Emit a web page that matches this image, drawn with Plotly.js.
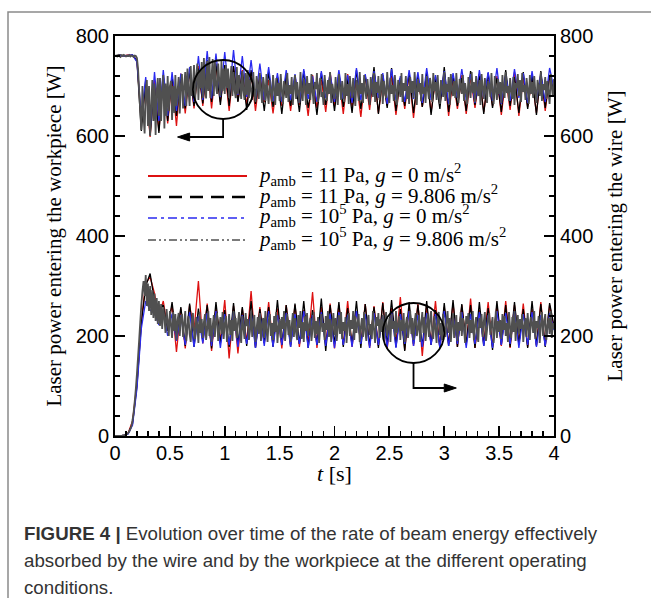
<!DOCTYPE html>
<html>
<head>
<meta charset="utf-8">
<script src="https://cdn.plot.ly/plotly-3.0.1.min.js"></script>
<style>
html,body{margin:0;padding:0;background:#fff;}
#chart{width:651px;height:598px;}
</style>
</head>
<body>
<div id="chart"></div>
<script>
// sampling of the recorded signals (seconds)
const fineStep = 0.01;   // gray series
const coarseStep = 0.04; // red, black, blue series

// ---- Laser power entering the workpiece [W] (left axis) ----
const workpiece_11Pa_g0 = [ // red
 760,761,760,762,761,752,625,705,598,712,
 610,722,625,715,620,725,645,730,655,740,
 660,745,655,740,668,735,650,738,670,732,
 662,728,650,722,668,712,645,718,660,716,
 650,720,662,708,640,722,656,712,648,728,
 660,716,644,724,658,710,638,720,652,730,
 646,712,660,720,642,716,654,724,636,718,
 658,720,648,712,662,728,640,716,654,722,
 644,718,656,724,648,712,660,720,642,716,
 652,728,640,716,658,712,646,724,650,718,
 690];
const workpiece_11Pa_g9806 = [ // black
 760,762,761,760,762,750,610,712,602,700,
 606,718,630,720,640,718,655,728,660,735,
 665,752,668,745,662,742,660,740,668,730,
 652,732,664,722,650,728,658,718,644,724,
 660,716,648,730,656,712,642,726,662,718,
 650,724,658,714,646,732,654,720,662,738,
 644,722,656,736,650,716,660,726,646,720,
 658,728,642,718,654,738,648,722,660,716,
 650,730,662,720,644,726,656,716,648,732,
 660,718,646,728,654,722,642,730,656,720,
 690];
const workpiece_1e5Pa_g0 = [ // blue
 760,761,760,761,762,748,640,718,612,728,
 630,732,640,728,650,725,660,738,668,760,
 672,770,675,765,678,768,680,772,682,760,
 678,752,674,745,672,738,670,726,668,732,
 672,724,666,734,674,720,668,730,676,726,
 668,732,674,722,666,736,672,724,670,730,
 676,726,664,734,672,720,668,732,674,728,
 666,736,672,722,670,730,664,726,676,734,
 672,724,666,732,674,728,670,736,664,722,
 670,734,676,726,666,730,672,724,668,736,
 695];
const workpiece_1e5Pa_g9806 = [ // gray
 760,761,759,762,760,758,761,760,762,760,759,761,760,762,759,761,760,758,761,760,756,
 735,690,650,612,700,640,605,690,712,620,
 700,600,660,712,630,705,602,690,716,640,
 716,630,690,722,615,705,640,720,650,700,
 710,632,700,646,722,660,690,718,645,700,
 724,655,700,728,660,735,690,660,740,680,
 700,742,668,720,745,672,730,695,748,676,
 756,700,675,750,690,758,676,720,754,680,
 748,700,684,745,712,680,750,690,735,684,
 742,696,735,676,712,740,680,728,690,676,
 738,684,722,700,674,730,690,672,726,682,
 732,676,712,690,672,728,686,668,720,700,
 674,726,690,666,718,700,670,724,684,664,
 712,688,668,722,694,662,716,680,706,670,
 724,690,664,710,698,676,726,668,702,684,
 718,662,696,722,674,708,686,666,728,692,
 670,714,700,662,720,684,706,672,724,690,
 664,708,694,726,668,700,716,678,688,662,
 722,696,670,712,684,728,666,704,690,674,
 718,686,662,724,698,672,710,692,668,726,
 680,704,664,720,694,676,716,688,660,712,
 700,670,728,684,706,666,722,692,674,714,
 690,662,718,702,678,726,668,708,686,720,
 672,696,724,664,710,688,676,728,694,666,
 716,684,702,670,722,692,662,712,698,678,
 726,668,706,690,720,674,700,664,718,686,
 710,676,728,694,662,714,688,706,670,724,
 684,698,666,720,692,674,716,702,668,726,
 690,708,672,722,686,664,712,696,678,728,
 670,704,688,718,662,724,694,680,710,676,
 726,692,666,714,700,684,722,670,706,690,
 664,718,696,676,728,686,708,668,720,694,
 680,712,662,724,698,674,716,690,666,710,
 702,678,726,688,664,720,694,672,714,684,
 708,666,722,692,676,728,686,700,670,716,
 690,674,718,662,706,696,724,680,712,668,
 726,688,702,672,716,694,664,722,684,708,
 676,720,690,666,712,698,680,728,670,704,
 692,718,674,710,686,664,724,696,678,714];

// ---- Laser power entering the wire [W] (right axis) ----
const wire_11Pa_g0 = [ // red
 0,0,1,6,30,105,230,305,318,285,
 240,270,215,262,168,255,175,262,210,310,
 185,265,170,258,190,272,155,260,165,255,
 188,290,178,258,185,268,180,255,175,262,
 182,262,178,252,185,288,176,258,182,265,
 175,262,182,270,178,250,185,264,176,260,
 180,268,174,256,185,278,172,258,180,265,
 160,262,182,270,176,258,184,265,178,262,
 182,275,176,252,185,268,178,262,180,270,
 176,262,184,265,178,254,182,268,180,262,
 215];
const wire_11Pa_g9806 = [ // black
 0,0,1,5,25,100,225,300,325,270,
 250,262,210,268,192,258,180,265,178,255,
 190,262,175,268,185,252,178,266,184,258,
 180,270,176,254,186,258,178,272,182,262,
 178,265,184,270,176,252,182,275,170,262,
 184,268,178,256,182,270,176,264,180,258,
 176,266,182,272,178,254,170,268,184,262,
 178,270,182,252,176,266,180,272,178,264,
 184,262,176,268,180,256,172,270,182,262,
 178,268,184,254,176,270,180,264,178,266,
 220];
const wire_1e5Pa_g0 = [ // blue
 0,0,1,4,22,95,215,270,252,245,
 222,248,200,245,190,242,182,248,178,240,
 185,246,180,250,176,244,182,248,178,242,
 184,248,176,244,180,250,178,242,182,246,
 178,244,184,250,176,242,182,248,180,245,
 176,248,182,242,178,250,184,244,176,246,
 182,242,178,248,176,244,184,250,180,242,
 178,246,182,244,176,250,180,242,184,248,
 176,244,184,248,180,242,176,250,182,246,
 184,250,176,244,182,248,178,242,180,246,
 212];
const wire_1e5Pa_g9806 = [ // gray
 0,0,0,0,0,0,0,1,1,2,3,4,6,9,14,20,
 32,48,70,95,125,158,192,228,262,290,310,280,322,260,305,
 250,300,242,292,236,285,230,276,224,270,
 220,264,214,258,236,206,254,228,200,250,
 222,196,248,210,244,192,232,246,200,236,
 244,198,226,250,190,218,240,204,188,232,
 246,210,194,238,222,186,248,206,234,196,
 228,244,192,214,250,200,236,188,220,242,
 198,230,246,190,212,238,204,248,194,224,
 240,188,218,244,202,232,190,250,210,236,
 196,226,248,206,186,240,216,194,246,220,
 234,192,210,250,198,228,242,188,214,238,
 204,246,190,222,236,196,250,212,188,230,
 244,200,226,192,240,208,248,186,218,234,
 196,238,214,250,190,224,244,202,232,188,
 220,246,198,236,206,192,242,216,250,194,
 228,188,240,210,246,200,222,236,190,214,
 248,196,230,204,238,186,218,244,208,226,
 192,240,212,250,198,234,188,224,246,202,
 236,190,216,242,204,248,194,228,210,238,
 186,222,246,200,232,214,250,192,240,206,
 226,244,188,218,236,198,248,210,190,230,
 242,202,224,194,250,212,186,238,220,246,
 196,234,208,242,190,226,248,200,216,236,
 188,244,214,230,198,250,206,222,240,192,
 232,210,246,188,224,238,196,218,250,204,
 236,192,228,246,200,214,242,188,226,248,
 206,238,190,220,244,198,232,250,210,194,
 240,216,186,234,248,202,226,192,244,212,
 198,230,250,206,236,188,222,246,196,218,
 242,190,228,210,248,200,236,214,186,240,
 224,246,196,232,206,250,192,220,238,204,
 188,236,216,244,198,228,248,190,212,234,
 246,202,222,238,186,214,250,196,230,208,
 232,194,244,212,240,200,226,188,248,218,
 196,238,208,250,190,224,242,204,234,214,
 244,188,220,236,198,246,212,192,238,226,
 206,250,194,230,216,240,186,222,248,200,
 228,244,192,218,236,204,250,196,226,214];

const legendLabels = [
 '<i>p</i><sub>amb</sub> = 11 Pa, <i>g</i> = 0 m/s<sup>2</sup>',
 '<i>p</i><sub>amb</sub> = 11 Pa, <i>g</i> = 9.806 m/s<sup>2</sup>',
 '<i>p</i><sub>amb</sub> = 10<sup>5</sup> Pa, <i>g</i> = 0 m/s<sup>2</sup>',
 '<i>p</i><sub>amb</sub> = 10<sup>5</sup> Pa, <i>g</i> = 9.806 m/s<sup>2</sup>'
];
const seriesColors = ['#dd1111', '#000000', '#2a2af0', '#505050'];
const legendDash = ['solid', '13px,8px', '9px,4px,3px,4px', '8px,3px,2px,3px,2px,3px'];
const legendWidth = [2, 2.4, 1.6, 1.4];

const xTitle = '<i>t</i> [s]';
const captionLines = [
 '<b>FIGURE 4 |</b> Evolution over time of the rate of beam energy effectively',
 'absorbed by the wire and by the workpiece at the different operating',
 'conditions.'
];

// ---- traces ----
function tr(y, step, color, axis, w) {
  return {type: 'scatter', mode: 'lines', x0: 0, dx: step, y: y,
          yaxis: axis, line: {color: color, width: w, simplify: false}, showlegend: false, hoverinfo: 'skip'};
}
const traces = [
  tr(workpiece_11Pa_g0, coarseStep, seriesColors[0], 'y', 1.3),
  tr(workpiece_11Pa_g9806, coarseStep, seriesColors[1], 'y', 1.3),
  tr(workpiece_1e5Pa_g0, coarseStep, seriesColors[2], 'y', 1.3),
  tr(workpiece_1e5Pa_g9806, fineStep, seriesColors[3], 'y', 1.8),
  tr(wire_11Pa_g0, coarseStep, seriesColors[0], 'y2', 1.3),
  tr(wire_11Pa_g9806, coarseStep, seriesColors[1], 'y2', 1.3),
  tr(wire_1e5Pa_g0, coarseStep, seriesColors[2], 'y2', 1.3),
  tr(wire_1e5Pa_g9806, fineStep, seriesColors[3], 'y2', 1.8)
];

// ---- layout helpers (pixel -> paper) ----
const L = 115, R = 554, T = 36, B = 436;
const px = v => (v - L) / (R - L);
const py = v => (B - v) / (B - T);

const tickFont = {family: 'Liberation Sans, Arial, sans-serif', size: 20, color: '#000'};
const serif = 'Liberation Serif, Times New Roman, serif';

const yCommon = {
  range: [0, 800], dtick: 200, tick0: 0, ticks: 'inside', ticklen: 10, tickwidth: 1.8,
  tickcolor: '#000', showline: true, linewidth: 2, linecolor: '#000',
  showgrid: false, zeroline: false, tickfont: tickFont,
  minor: {dtick: 40, ticks: 'inside', ticklen: 5, tickwidth: 1.2, tickcolor: '#000', showgrid: false}
};

const shapes = [];
const annotations = [];

// figure frame
shapes.push({type: 'rect', xref: 'paper', yref: 'paper', x0: px(8), x1: px(700), y0: py(700), y1: py(12),
  line: {color: '#8a8a8a', width: 1.5}, fillcolor: 'rgba(0,0,0,0)', layer: 'below'});

// legend
const rowsY = [176, 197, 218, 240];
for (let i = 0; i < 4; i++) {
  shapes.push({type: 'line', xref: 'paper', yref: 'paper', x0: px(148), x1: px(247), y0: py(rowsY[i]), y1: py(rowsY[i]),
    line: {color: seriesColors[i], width: legendWidth[i], dash: legendDash[i]}});
  annotations.push({xref: 'paper', yref: 'paper', x: px(256), y: py(rowsY[i] - 2), xanchor: 'left', yanchor: 'middle',
    text: legendLabels[i], showarrow: false, font: {family: serif, size: 21, color: '#000'}});
}

// markers: circle + elbow line + filled arrow head pointing to the relevant axis
shapes.push({type: 'circle', xref: 'x', yref: 'y', x0: 0.71, x1: 1.26, y0: 634, y1: 752, line: {color: '#000', width: 1.8}});
shapes.push({type: 'path', xref: 'x', yref: 'y', path: 'M0.985,634 L0.985,598 L0.68,598', line: {color: '#000', width: 1.8}});
shapes.push({type: 'path', xref: 'x', yref: 'y', path: 'M0.57,598 L0.68,606 L0.68,590 Z',
  line: {color: '#000', width: 1}, fillcolor: '#000'});

shapes.push({type: 'circle', xref: 'x', yref: 'y2', x0: 2.44, x1: 3.0, y0: 146, y1: 266, line: {color: '#000', width: 1.8}});
shapes.push({type: 'path', xref: 'x', yref: 'y2', path: 'M2.72,146 L2.72,96 L3.0,96', line: {color: '#000', width: 1.8}});
shapes.push({type: 'path', xref: 'x', yref: 'y2', path: 'M3.11,96 L3.0,104 L3.0,88 Z',
  line: {color: '#000', width: 1}, fillcolor: '#000'});

// x-axis title
annotations.push({xref: 'paper', yref: 'paper', x: 0.5, y: py(473), xanchor: 'center', yanchor: 'middle',
  text: xTitle, showarrow: false, font: {family: serif, size: 22, color: '#000'}});

// caption
const capY = [533, 560, 587];
for (let i = 0; i < captionLines.length; i++) {
  annotations.push({xref: 'paper', yref: 'paper', x: px(22), y: py(capY[i]), xanchor: 'left', yanchor: 'middle',
    text: captionLines[i], showarrow: false, align: 'left',
    font: {family: 'Liberation Sans, Arial, sans-serif', size: 18.7, color: '#333'}});
}

const layout = {
  width: 651, height: 598,
  margin: {l: L, r: 651 - R, t: T, b: 598 - B, pad: 0},
  paper_bgcolor: '#fff', plot_bgcolor: '#fff',
  showlegend: false,
  xaxis: {
    range: [0, 4], dtick: 0.5, tick0: 0, ticks: 'inside', ticklen: 10, tickwidth: 1.8, tickcolor: '#000',
    showline: true, linewidth: 2, linecolor: '#000', mirror: true,
    showgrid: false, zeroline: false, tickfont: tickFont, ticklabelstandoff: -2,
    minor: {dtick: 0.1, ticks: 'inside', ticklen: 5, tickwidth: 1.2, tickcolor: '#000', showgrid: false}
  },
  yaxis: Object.assign({}, yCommon, {
    title: {text: 'Laser power entering the workpiece [W]', font: {family: serif, size: 21, color: '#000'}, standoff: 8}
  }),
  yaxis2: Object.assign({}, yCommon, {
    overlaying: 'y', side: 'right',
    title: {text: 'Laser power entering the wire [W]', font: {family: serif, size: 21, color: '#000'}, standoff: 15}
  }),
  shapes: shapes,
  annotations: annotations
};

Plotly.newPlot('chart', traces, layout, {displayModeBar: false, staticPlot: true});
</script>
</body>
</html>
